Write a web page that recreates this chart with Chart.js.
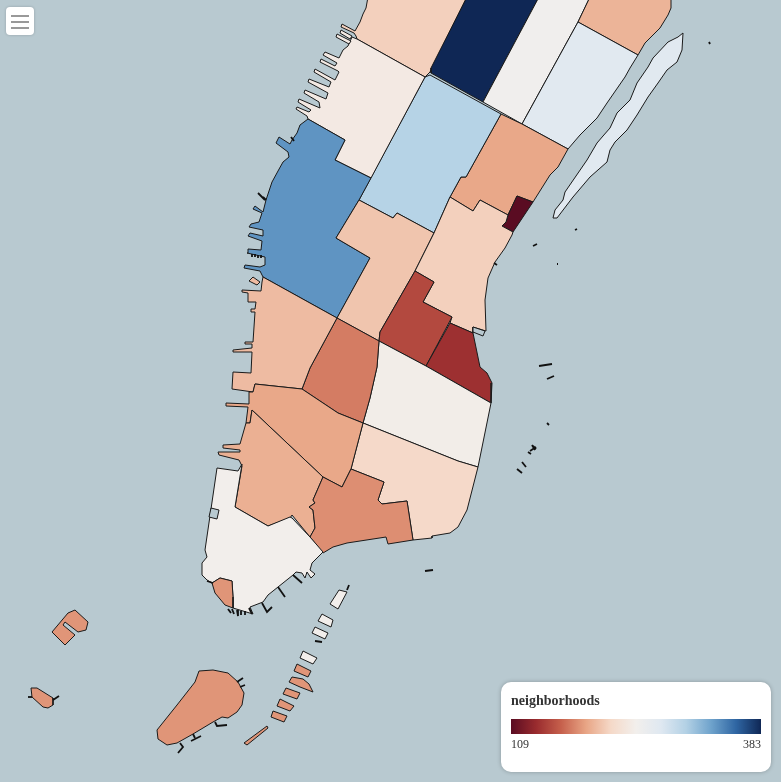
<!DOCTYPE html>
<html><head><meta charset="utf-8">
<script src="https://cdn.jsdelivr.net/npm/chart.js@4"></script>
<style>
html,body{margin:0;padding:0;background:#b8c9d0;width:781px;height:782px;overflow:hidden;font-family:"Liberation Serif",serif}
#wrap{position:absolute;left:0;top:0;width:781px;height:782px}
#menu{position:absolute;left:6px;top:7px;width:28px;height:28px;background:#fff;border-radius:4px;box-shadow:0 0 3px rgba(0,0,0,.2)}
#menu i{position:absolute;left:5px;width:18px;height:2px;background:#999}
#legend{position:absolute;left:501px;top:682px;width:270px;height:90px;background:#fff;border-radius:10px;box-shadow:0 0 4px rgba(0,0,0,.25);color:#333}
#lt{position:absolute;left:10px;top:10px;font-size:14px;font-weight:bold;line-height:17px}
#lb{position:absolute;left:10px;top:37px;width:250px;height:15px}
#lmin{position:absolute;left:10px;top:54px;font-size:12px;line-height:16px}
#lmax{position:absolute;right:10px;top:54px;font-size:12px;line-height:16px}
</style></head><body>
<div id="wrap"><canvas id="c" width="781" height="782" style="width:781px;height:782px;display:block"></canvas></div>
<div id="menu"><i style="top:8px"></i><i style="top:14px"></i><i style="top:20px"></i></div>
<div id="legend"><div id="lt">neighborhoods</div><div id="lb"></div><div id="lmin"></div><div id="lmax"></div></div>
<script>
const valueMin = 109, valueMax = 383;
const legendTitle = "neighborhoods";
const rampStops = ["#5a0c22","#992b2e","#c6604c","#e8a585","#f5d9c8","#f2efec","#dfe8f1","#b3d1e5","#6fa3cc","#2f66a3","#0f2755"];
const waterColor = "#b8c9d0";

const regionValues = [214,383,249,199,270,270,193,109,299,239,335,208,214,152,139,243,219,175,203,203,193,197,182,245,185,185,185,185,245,245,245,245,185,185,185,185,185,185,239,239];
const regionOutlines = [
 [[368,-3],[366,8],[363,14],[360,22],[355,31],[342,24],[341,27],[354,33],[356,36],[357,39],[425,77],[430,72],[467,-3]],
 [[467,-3],[431,68],[431,73],[483,102],[539,-3]],
 [[539,-3],[483,102],[522,124],[578,22],[590,-3]],
 [[590,-3],[578,22],[638,55],[645,43],[660,28],[668,15],[671,8],[671,-3]],
 [[578,22],[638,55],[630,68],[625,77],[607,103],[597,118],[580,135],[568,149],[522,124]],
 [[553,218],[555,210],[563,200],[565,192],[587,160],[597,143],[603,136],[610,128],[617,113],[630,100],[637,83],[648,67],[653,58],[668,42],[678,37],[683,33],[682,50],[677,62],[667,70],[658,83],[648,97],[637,115],[627,130],[615,142],[610,150],[607,162],[590,177],[573,197],[557,218]],
 [[501,114],[522,124],[568,149],[558,167],[550,175],[533,202],[517,196],[508,215],[480,200],[473,211],[450,197],[461,177],[466,177]],
 [[517,196],[533,202],[513,232],[502,226],[506,222],[508,215]],
 [[430,75],[501,114],[466,177],[461,177],[450,197],[434,233],[397,213],[393,218],[359,200],[425,77]],
 [[357,39],[352,37],[348,46],[343,50],[339,58],[325,52],[323,55],[337,63],[335,66],[321,59],[320,62],[338,71],[339,72],[335,80],[315,69],[314,72],[331,82],[329,87],[309,79],[308,82],[328,93],[326,99],[305,90],[304,93],[319,102],[320,108],[299,99],[298,102],[311,110],[309,112],[297,107],[296,109],[307,116],[308,119],[345,140],[335,160],[371,178],[425,77]],
 [[308,119],[345,140],[335,160],[371,178],[359,200],[336,238],[370,258],[337,318],[263,277],[260,271],[244,268],[245,265],[260,267],[265,265],[265,257],[247,253],[248,249],[261,250],[262,241],[248,236],[250,233],[263,236],[263,230],[249,227],[251,224],[259,222],[262,213],[253,209],[255,206],[263,212],[266,200],[272,182],[278,171],[283,162],[289,157],[288,152],[276,143],[279,137],[290,144],[292,140],[297,133],[300,125]],
 [[359,200],[393,218],[397,213],[434,233],[415,271],[380,332],[379,341],[337,318],[370,258],[336,238]],
 [[434,233],[450,197],[473,211],[480,200],[508,215],[506,222],[502,226],[513,232],[512,235],[505,248],[495,262],[488,278],[485,300],[486,331],[473,327],[473,333],[450,323],[452,317],[423,302],[434,282],[415,271]],
 [[415,271],[434,282],[423,302],[452,317],[426,366],[379,341],[380,332]],
 [[450,323],[473,333],[480,367],[487,373],[492,383],[491,403],[426,366]],
 [[379,341],[426,366],[491,403],[478,467],[458,461],[363,423],[370,398],[377,367]],
 [[363,423],[458,461],[478,467],[467,510],[458,527],[450,533],[432,536],[432,538],[413,540],[407,501],[382,504],[378,500],[384,482],[351,469]],
 [[337,318],[379,341],[377,367],[370,398],[363,423],[338,413],[302,389],[310,368]],
 [[263,277],[337,318],[310,368],[302,389],[255,384],[253,392],[232,389],[233,372],[251,373],[252,352],[233,352],[233,350],[252,348],[252,344],[245,344],[245,342],[253,342],[255,312],[251,312],[251,309],[255,309],[256,302],[248,302],[248,293],[242,292],[242,290],[261,291],[262,282]],
 [[249,281],[253,277],[260,282],[257,285]],
 [[255,384],[302,389],[338,413],[363,423],[351,469],[342,487],[323,477],[252,410],[250,423],[246,423],[248,407],[226,406],[226,403],[249,404],[249,392],[253,392]],
 [[252,410],[323,477],[313,500],[315,503],[309,507],[313,510],[315,528],[310,537],[292,515],[290,518],[268,526],[235,507],[242,466],[239,460],[219,455],[218,452],[240,452],[240,450],[223,448],[223,445],[240,444],[246,423],[250,423]],
 [[323,477],[342,487],[351,469],[384,482],[378,500],[382,504],[407,501],[413,540],[388,544],[386,537],[347,543],[333,547],[323,553],[310,537],[315,528],[313,510],[309,507],[315,503],[313,500]],
 [[235,507],[268,526],[290,517],[292,518],[310,537],[323,552],[312,563],[310,570],[315,574],[311,578],[307,572],[305,578],[302,573],[296,572],[293,575],[278,587],[268,595],[263,602],[250,607],[253,614],[233,608],[233,597],[232,581],[220,578],[212,583],[207,580],[202,575],[202,563],[207,557],[205,550],[217,468],[238,471],[242,464]],
 [[212,583],[220,578],[232,581],[233,597],[233,608],[225,605],[215,593]],
 [[157,730],[177,705],[195,682],[199,671],[213,670],[228,673],[238,682],[244,693],[242,705],[237,712],[228,718],[222,717],[213,722],[193,734],[177,743],[167,745],[158,739]],
 [[52,632],[68,613],[75,610],[88,622],[86,630],[78,632],[65,622],[63,625],[75,635],[65,645]],
 [[31,688],[37,688],[53,698],[53,705],[48,708],[43,707],[32,697]],
 [[330,604],[339,590],[347,592],[338,609]],
 [[322,614],[333,620],[331,627],[318,621]],
 [[315,627],[328,633],[325,639],[312,633]],
 [[303,651],[317,658],[313,664],[300,658]],
 [[297,664],[311,671],[308,677],[294,671]],
 [[292,677],[303,679],[309,684],[313,692],[300,687],[289,682]],
 [[286,688],[300,693],[297,699],[283,694]],
 [[280,699],[294,706],[290,711],[277,706]],
 [[273,711],[287,716],[284,722],[271,717]],
 [[267,726],[268,728],[247,745],[244,743]],
 [[341,30],[340,33],[350,39],[352,36]],
 [[337,34],[336,37],[349,44],[351,41]]
];
const waterHoles = [
 [[211,508],[219,510],[217,519],[209,517]],
 [[473,327],[485,331],[483,336],[473,332]]
];
const strayLines = [
 [[258,193],[265,200]],[[263,197],[266,200]],[[291,137],[294,141]],[[537,244],[533,246]],[[575,230],[577,229]],[[557,264],[558,264]],[[709,42],[710,44]],[[494,263],[497,265]],
 [[539,366],[552,364]],[[547,379],[554,376]],[[547,423],[549,425]],[[532,445],[535,450]],[[533,446],[536,449]],[[530,451],[536,447]],[[528,452],[531,454]],[[522,462],[526,467]],[[517,469],[522,473]],
 [[425,571],[433,570]],
 [[215,722],[217,726],[227,725]],[[193,734],[195,738]],[[191,741],[201,736]],[[180,743],[183,747],[178,753]],[[237,682],[243,678]],[[240,687],[245,685]],[[28,697],[32,697]],[[53,700],[59,696]],
 [[315,641],[322,642]],[[347,590],[349,585]],
 [[228,609],[231,613]],[[232,609],[234,614]],[[237,610],[238,616]],[[241,611],[241,615]],[[245,611],[245,615]],[[249,608],[252,614]],
 [[252,254],[252,257]],[[255,254],[255,257]],[[258,255],[258,258]],[[261,255],[261,258]],
 [[293,575],[302,583]],[[278,587],[285,597]],[[262,603],[267,612],[272,607]],[[213,583],[207,581]]
];

function hex(c){return [1,3,5].map(i=>parseInt(c.substr(i,2),16));}
function colorFor(v){
  const t=Math.max(0,Math.min(1,(v-valueMin)/(valueMax-valueMin)))*(rampStops.length-1);
  const i=Math.min(rampStops.length-2,Math.floor(t)),f=t-i;
  const a=hex(rampStops[i]),b=hex(rampStops[i+1]);
  return "rgb("+a.map((x,k)=>Math.round(x+(b[k]-x)*f)).join(",")+")";
}
const toPts=o=>o.concat([o[0]]).map(p=>({x:p[0],y:p[1]}));
const datasets=[];
regionOutlines.forEach((o,i)=>datasets.push({data:toPts(o),backgroundColor:colorFor(regionValues[i]),borderColor:"#1a1a1a",borderWidth:1,fill:"shape",showLine:true,pointRadius:0,tension:0}));
waterHoles.forEach(o=>datasets.push({data:toPts(o),backgroundColor:waterColor,borderColor:"#1a1a1a",borderWidth:1,fill:"shape",showLine:true,pointRadius:0,tension:0}));
strayLines.forEach(o=>datasets.push({data:o.map(p=>({x:p[0],y:p[1]})),borderColor:"#111",borderWidth:1.8,fill:false,showLine:true,pointRadius:0,tension:0}));
datasets.reverse(); // Chart.js paints the first dataset last

new Chart(document.getElementById("c"),{
  type:"scatter",
  data:{datasets},
  options:{responsive:false,animation:false,events:[],devicePixelRatio:1,
    layout:{padding:0},
    plugins:{legend:{display:false},tooltip:{enabled:false},title:{display:false}},
    scales:{x:{type:"linear",display:false,min:0,max:781},y:{type:"linear",display:false,reverse:true,min:0,max:782}}
  }
});
document.getElementById("lt").textContent=legendTitle;
document.getElementById("lmin").textContent=valueMin;
document.getElementById("lmax").textContent=valueMax;
document.getElementById("lb").style.background="linear-gradient(to right,"+rampStops.join(",")+")";
</script>
</body></html>
